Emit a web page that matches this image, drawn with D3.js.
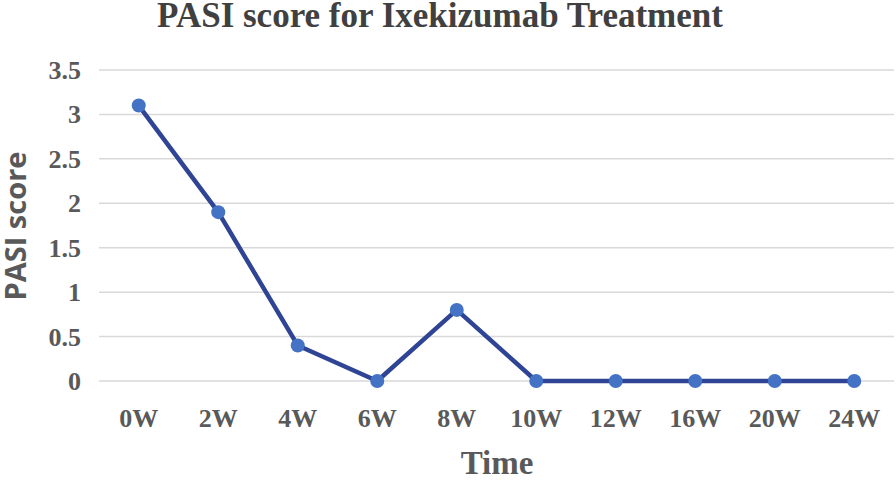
<!DOCTYPE html>
<html lang="en">
<head>
    <meta charset="UTF-8">
    <title>PASI score for Ixekizumab Treatment</title>
    <script src="https://d3js.org/d3.v7.min.js"></script>
    <style>
        body { margin: 0; background: #fff; }
        .serif { font-family: "Liberation Serif", "Times New Roman", serif; font-weight: bold; }
        .grid line { stroke: #d9d9d9; stroke-width: 1.5px; }
    </style>
</head>
<body>
    <svg width="896" height="480"></svg>
    <script>
        const weeks = ["0W", "2W", "4W", "6W", "8W", "10W", "12W", "16W", "20W", "24W"];
        const pasi = [3.1, 1.9, 0.4, 0, 0.8, 0, 0, 0, 0, 0];
        const yTicks = [0, 0.5, 1, 1.5, 2, 2.5, 3, 3.5];

        const svg = d3.select("svg");
        const plotLeft = 99, plotRight = 894, plotTop = 70, plotBottom = 381;

        const x = d3.scalePoint().domain(weeks).range([plotLeft, plotRight]).padding(0.5);
        const y = d3.scaleLinear().domain([0, 3.5]).range([plotBottom, plotTop]);

        // gridlines
        svg.append("g").attr("class", "grid")
            .selectAll("line")
            .data(yTicks)
            .enter().append("line")
            .attr("x1", plotLeft).attr("x2", plotRight)
            .attr("y1", d => y(d)).attr("y2", d => y(d));

        // y tick labels
        svg.append("g")
            .selectAll("text")
            .data(yTicks)
            .enter().append("text")
            .attr("class", "serif")
            .attr("x", 81)
            .attr("y", d => y(d) + 9)
            .attr("text-anchor", "end")
            .attr("fill", "#595959")
            .style("font-size", "26px")
            .text(d => d);

        // x tick labels
        svg.append("g")
            .selectAll("text")
            .data(weeks)
            .enter().append("text")
            .attr("class", "serif")
            .attr("x", d => x(d))
            .attr("y", 427)
            .attr("text-anchor", "middle")
            .attr("fill", "#595959")
            .style("font-size", "26px")
            .text(d => d);

        const line = d3.line()
            .x((d, i) => x(weeks[i]))
            .y(d => y(d));

        svg.append("path")
            .datum(pasi)
            .attr("d", line)
            .attr("fill", "none")
            .attr("stroke", "#2f4494")
            .attr("stroke-width", 4.5)
            .attr("stroke-linejoin", "round");

        svg.append("g")
            .selectAll("circle")
            .data(pasi)
            .enter().append("circle")
            .attr("cx", (d, i) => x(weeks[i]))
            .attr("cy", d => y(d))
            .attr("r", 7)
            .attr("fill", "#4472c4");

        // title
        svg.append("text")
            .attr("class", "serif")
            .attr("x", 440)
            .attr("y", 27)
            .attr("text-anchor", "middle")
            .attr("fill", "#404040")
            .style("font-size", "35px")
            .text("PASI score for Ixekizumab Treatment");

        // axis titles
        svg.append("text")
            .attr("class", "serif")
            .attr("x", 497)
            .attr("y", 474)
            .attr("text-anchor", "middle")
            .attr("fill", "#595959")
            .style("font-size", "33px")
            .text("Time");

        svg.append("text")
            .attr("transform", "translate(26,226) rotate(-90)")
            .attr("text-anchor", "middle")
            .attr("fill", "#595959")
            .style("font-family", "'Open Sans', 'Liberation Sans', sans-serif")
            .style("font-weight", "bold")
            .style("font-size", "29px")
            .text("PASI score");
    </script>
</body>
</html>
